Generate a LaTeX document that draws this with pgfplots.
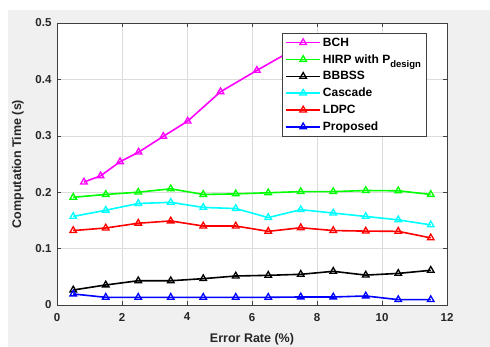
\documentclass[border=0pt]{standalone}
\usepackage{fontspec}
\setmainfont{Liberation Sans}
\usepackage{pgfplots}
\pgfplotsset{compat=1.18}
\definecolor{figbg}{HTML}{F0F0F0}
\definecolor{gridc}{HTML}{DCDCDC}
\definecolor{axc}{HTML}{404040}
\definecolor{cmag}{RGB}{255,0,255}
\definecolor{cgreen}{RGB}{0,255,0}
\definecolor{ccyan}{RGB}{0,255,255}
\definecolor{cred}{RGB}{255,0,0}
\definecolor{cblue}{RGB}{0,0,255}
\definecolor{cblack}{RGB}{0,0,0}
\begin{document}
\begin{tikzpicture}
\fill[white] (0pt,0pt) rectangle (490pt,347pt);
\fill[figbg] (8pt,0pt) rectangle (490pt,337pt);
\begin{axis}[
  at={(57pt,42pt)}, anchor=south west,
  scale only axis, width=390pt, height=282pt,
  xmin=0, xmax=12, ymin=0, ymax=0.5,
  xtick={0,2,...,12}, ytick={0,0.1,0.2,0.3,0.4,0.5},
  yticklabel style={/pgf/number format/fixed,/pgf/number format/precision=1},
  /pgf/number format/assume math mode=true,
  tick label style={font=\fontsize{11.5}{12}\selectfont\bfseries, color=black!85},
  xticklabel style={yshift=-4.5pt},
  yticklabel style={xshift=-2pt},
  tick align=inside, major tick length=4pt,
  every tick/.style={axc, line width=0.5pt},
  axis line style={axc, line width=0.7pt},
  grid=major, major grid style={gridc, line width=0.5pt},
  axis background/.style={fill=white},
  xlabel={Error Rate (\%)}, ylabel={Computation Time (s)},
  label style={font=\fontsize{12.5}{14}\selectfont\bfseries, color=black!85},
  xlabel style={at={(axis description cs:0.5,-0.12)}, anchor=center},
  ylabel style={at={(axis description cs:-0.1,0.5)}, anchor=center},
  every axis plot/.append style={line width=1.6pt, mark=triangle, mark size=3.8pt, mark options={line width=1.3pt, fill=none}},
  legend cell align=left,
  legend image code/.code={\draw[mark repeat=2,mark phase=2] plot coordinates {(0pt,0pt)(17pt,0pt)(34pt,0pt)};},
  legend style={at={(0.577,0.965)}, anchor=north west, draw=axc, line width=0.7pt, fill=white,
    font=\fontsize{12}{13}\selectfont\bfseries, row sep=2.8pt, inner xsep=3pt, inner ysep=2.5pt},
]
\addplot[cmag] coordinates {(0.83,0.218)(1.34,0.229)(1.94,0.254)(2.51,0.271)(3.27,0.299)(4.02,0.326)(5.03,0.378)(6.15,0.416)(7.5,0.46)};
\addlegendentry{BCH}
\addplot[cgreen] coordinates {(0.5,0.191)(1.5,0.196)(2.5,0.200)(3.5,0.206)(4.5,0.196)(5.5,0.197)(6.5,0.199)(7.5,0.201)(8.5,0.201)(9.5,0.203)(10.5,0.2025)(11.5,0.196)};
\addlegendentry{HIRP with P\raisebox{-0.7ex}{\fontsize{9.5}{9.5}\selectfont design}}
\addplot[cblack] coordinates {(0.5,0.0266)(1.5,0.0355)(2.5,0.043)(3.5,0.043)(4.5,0.0467)(5.5,0.0514)(6.5,0.0526)(7.5,0.0544)(8.5,0.0597)(9.5,0.053)(10.5,0.056)(11.5,0.0615)};
\addlegendentry{BBBSS}
\addplot[ccyan] coordinates {(0.5,0.157)(1.5,0.168)(2.5,0.180)(3.5,0.182)(4.5,0.173)(5.5,0.171)(6.5,0.155)(7.5,0.169)(8.5,0.163)(9.5,0.157)(10.5,0.151)(11.5,0.142)};
\addlegendentry{Cascade}
\addplot[cred] coordinates {(0.5,0.132)(1.5,0.1365)(2.5,0.145)(3.5,0.149)(4.5,0.140)(5.5,0.140)(6.5,0.1306)(7.5,0.137)(8.5,0.132)(9.5,0.131)(10.5,0.1306)(11.5,0.119)};
\addlegendentry{LDPC}
\addplot[cblue] coordinates {(0.5,0.0195)(1.5,0.0136)(2.5,0.0136)(3.5,0.0136)(4.5,0.0136)(5.5,0.0136)(6.5,0.0136)(7.5,0.0142)(8.5,0.0142)(9.5,0.016)(10.5,0.0095)(11.5,0.0095)};
\addlegendentry{Proposed}
\end{axis}
\pgfresetboundingbox
\path (0pt,0pt) rectangle (490pt,347pt);
\end{tikzpicture}
\end{document}
